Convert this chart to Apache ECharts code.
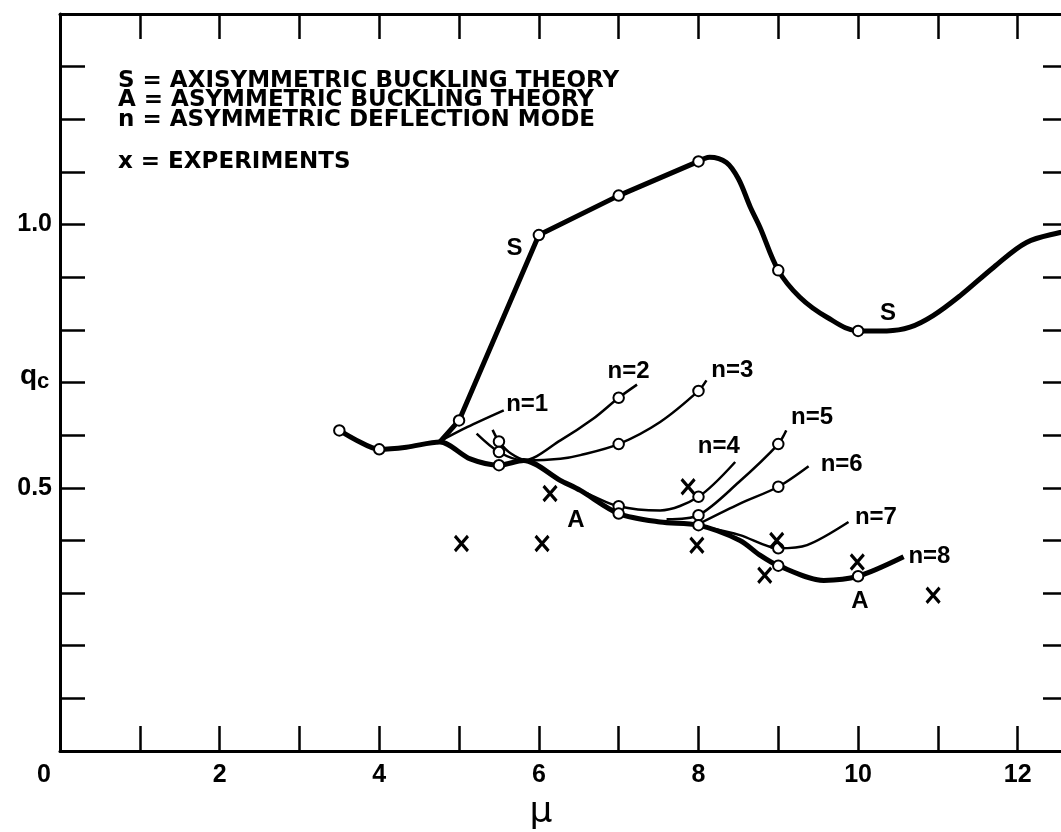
<!DOCTYPE html>
<html>
<head>
<meta charset="UTF-8">
<title>qc - mu</title>
<script src="https://cdn.jsdelivr.net/npm/echarts@6/dist/echarts.min.js"></script>
<style>
html, body { margin: 0; padding: 0; background: #fff; }
#chart { width: 1061px; height: 832px; }
</style>
</head>
<body>
<div id="chart"></div>
<script>
// S = axisymmetric buckling (straight bit up to mu=8, then the smooth wave)
var sStraight = [[4.76, 0.587], [5.0, 0.628], [6.0, 0.98], [7.0, 1.055], [8.0, 1.12]];
var sWave = [[8.0, 1.12], [8.14, 1.128], [8.35, 1.118], [8.5, 1.087], [8.65, 1.033], [8.77, 0.995],
  [9.0, 0.913], [9.27, 0.862], [9.61, 0.824], [10.0, 0.798], [10.36, 0.798], [10.65, 0.805],
  [10.94, 0.827], [11.28, 0.865], [11.7, 0.919], [12.11, 0.966], [12.53, 0.985], [12.63, 0.987]];
// A = asymmetric buckling envelope
var aCurve = [[3.5, 0.609], [3.72, 0.59], [4.0, 0.573], [4.34, 0.577], [4.76, 0.587], [5.14, 0.555],
  [5.5, 0.543], [5.81, 0.552], [6.27, 0.514], [6.52, 0.495], [7.0, 0.451], [7.52, 0.435],
  [8.0, 0.429], [8.52, 0.40], [8.77, 0.372], [9.0, 0.352], [9.57, 0.324], [10.0, 0.332], [10.57, 0.369]];
// n = deflection modes
var n1 = [[4.72, 0.585], [5.1, 0.615], [5.56, 0.647]];
var n2 = [[5.22, 0.603], [5.5, 0.568], [5.81, 0.552], [6.27, 0.59], [6.68, 0.631], [7.0, 0.671], [7.23, 0.696]];
var n3 = [[5.42, 0.61], [5.5, 0.588], [5.65, 0.565], [5.85, 0.552], [6.27, 0.555], [6.52, 0.562],
  [7.0, 0.583], [7.52, 0.625], [8.0, 0.684], [8.1, 0.704]];
var n4 = [[6.6, 0.49], [7.0, 0.465], [7.52, 0.457], [8.0, 0.483], [8.46, 0.549]];
var n5 = [[7.6, 0.44], [8.0, 0.448], [8.5, 0.51], [9.0, 0.583], [9.1, 0.609]];
var n6 = [[8.05, 0.435], [8.52, 0.47], [9.0, 0.502], [9.38, 0.541]];
var n7 = [[8.1, 0.425], [8.52, 0.41], [9.0, 0.385], [9.36, 0.391], [9.88, 0.435]];
// computed points (open circles)
var circles = [[3.5, 0.609], [4.0, 0.573], [5.0, 0.628], [6.0, 0.98], [7.0, 1.055], [8.0, 1.12],
  [9.0, 0.913], [10.0, 0.798], [5.5, 0.588], [5.5, 0.568], [5.5, 0.543], [7.0, 0.671], [7.0, 0.583],
  [8.0, 0.684], [7.0, 0.465], [7.0, 0.451], [8.0, 0.483], [8.0, 0.448], [8.0, 0.429], [9.0, 0.583],
  [9.0, 0.502], [9.0, 0.385], [9.0, 0.352], [10.0, 0.332]];
// x = experiments
var experiments = [[5.03, 0.394], [6.04, 0.394], [6.14, 0.489], [7.87, 0.502], [7.98, 0.391],
  [8.98, 0.40], [8.83, 0.334], [9.99, 0.359], [10.94, 0.296]];
// curve labels
var curveLabels = [['S', 5.70, 0.954], ['S', 10.38, 0.831], ['A', 6.47, 0.438], ['A', 10.03, 0.283],
  ['n=1', 5.86, 0.657], ['n=2', 7.13, 0.72], ['n=3', 8.43, 0.723], ['n=4', 8.26, 0.577],
  ['n=5', 9.43, 0.632], ['n=6', 9.8, 0.543], ['n=7', 10.23, 0.442], ['n=8', 10.9, 0.369]];
var legendLines = ['S = AXISYMMETRIC BUCKLING THEORY', 'A = ASYMMETRIC BUCKLING THEORY',
  'n = ASYMMETRIC DEFLECTION MODE', 'x = EXPERIMENTS'];
var muLabels = [0, 2, 4, 6, 8, 10, 12];
var qcLabels = [0.5, 1.0];

var FONT = '"Liberation Sans", Arial, sans-serif';
var chart = echarts.init(document.getElementById('chart'));

function lineSeries(data, w, smooth) {
  return {
    type: 'line', data: data, showSymbol: false, smooth: smooth,
    lineStyle: { color: '#000', width: w }, z: 3, silent: true
  };
}

var axisLine = { onZero: false, lineStyle: { color: '#000', width: 3 } };
var axisTick = { inside: true, length: 25, lineStyle: { color: '#000', width: 2.5 } };

var legendY = [81.5, 101, 120.5, 162.5];
var graphics = legendLines.map(function (t, i) {
  return {
    type: 'text', left: 118, top: legendY[i] - 12,
    style: { text: t, font: 'bold 23px "DejaVu Sans"', fill: '#000' }
  };
});
// y axis title q_c
graphics.push({
  type: 'text', left: 20, top: 362,
  style: {
    text: '{q|q}{c|c}',
    rich: {
      q: { font: 'bold 28px ' + FONT, fill: '#000' },
      c: { font: 'bold 22px ' + FONT, fill: '#000', padding: [12, 0, 0, 0] }
    }
  }
});

var option = {
  animation: false,
  backgroundColor: '#fff',
  grid: { left: 60, right: -7, top: 14, bottom: 81, containLabel: false, outerBoundsMode: 'none' },
  xAxis: [
    {
      type: 'value', min: 0, max: 12.63, interval: 1, position: 'bottom',
      axisLine: axisLine, axisTick: axisTick, splitLine: { show: false },
      axisLabel: {
        margin: 12, color: '#000', fontFamily: FONT, fontWeight: 'bold', fontSize: 25,
        showMaxLabel: false,
        formatter: function (v) {
          if (v === 0) return '{z|0}';
          return muLabels.indexOf(v) >= 0 ? String(v) : '';
        },
        rich: { z: { fontFamily: FONT, fontWeight: 'bold', fontSize: 25, padding: [0, 32, 12, 0] } }
      },
      name: 'μ', nameLocation: 'middle', nameGap: 44,
      nameTextStyle: { fontFamily: '"DejaVu Sans"', fontSize: 36, color: '#000', padding: [0, 46, 0, 0] }
    },
    {
      type: 'value', min: 0, max: 12.63, interval: 1, position: 'top',
      axisLine: axisLine, axisTick: axisTick, axisLabel: { show: false }, splitLine: { show: false }
    }
  ],
  yAxis: [
    {
      type: 'value', min: 0, max: 1.4, interval: 0.1, position: 'left',
      axisLine: axisLine, axisTick: axisTick, splitLine: { show: false },
      axisLabel: {
        margin: 8, color: '#000', fontFamily: FONT, fontWeight: 'bold', fontSize: 25,
        formatter: function (v) {
          for (var i = 0; i < qcLabels.length; i++) {
            if (Math.abs(v - qcLabels[i]) < 1e-6) return qcLabels[i].toFixed(1);
          }
          return '';
        }
      }
    },
    {
      type: 'value', min: 0, max: 1.4, interval: 0.1, position: 'right',
      axisLine: axisLine, axisTick: axisTick, axisLabel: { show: false }, splitLine: { show: false }
    }
  ],
  graphic: graphics,
  series: [
    lineSeries(sStraight, 5, false),
    lineSeries(sWave, 5, 0.35),
    lineSeries(aCurve, 5, 0.3),
    lineSeries(n1, 2.5, 0.3),
    lineSeries(n2, 2.5, 0.3),
    lineSeries(n3, 2.5, 0.3),
    lineSeries(n4, 2.5, 0.3),
    lineSeries(n5, 2.5, 0.3),
    lineSeries(n6, 2.5, 0.3),
    lineSeries(n7, 2.5, 0.3),
    {
      type: 'scatter', data: circles, symbol: 'circle', symbolSize: 10.5, z: 5, silent: true,
      itemStyle: { color: '#fff', borderColor: '#000', borderWidth: 2, opacity: 1 }
    },
    {
      type: 'scatter', data: experiments, symbol: 'path://M0,0L12,14M12,0L0,14', symbolSize: [13, 15],
      z: 6, silent: true,
      itemStyle: { color: 'rgba(0,0,0,0)', borderColor: '#000', borderWidth: 3.2, opacity: 1 }
    },
    {
      type: 'scatter', symbolSize: 1, z: 6, silent: true,
      itemStyle: { color: '#fff', opacity: 0 },
      data: curveLabels.map(function (d) { return { name: d[0], value: [d[1], d[2]] }; }),
      label: {
        show: true, position: [0, 0], align: 'center', verticalAlign: 'middle',
        formatter: '{b}', color: '#000', opacity: 1, textBorderWidth: 0,
        fontFamily: FONT, fontWeight: 'bold', fontSize: 24
      }
    }
  ]
};
chart.setOption(option);
</script>
</body>
</html>
